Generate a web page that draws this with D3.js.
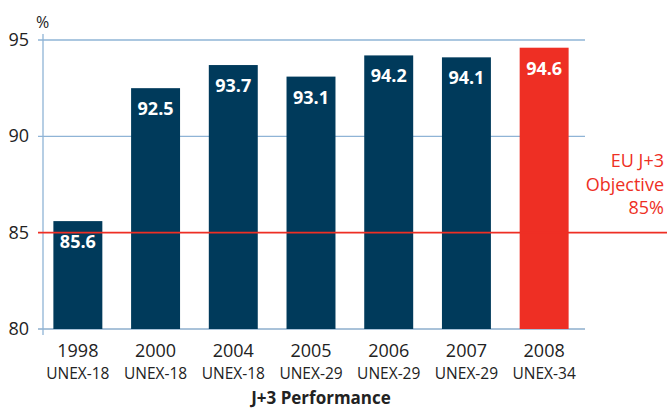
<!DOCTYPE html>
<html>
<head>
<meta charset="utf-8">
<script src="https://cdn.jsdelivr.net/npm/d3@7"></script>
<style>
  body { margin: 0; background: #fff; }
  svg text { font-family: "Open Sans", "Noto Sans", sans-serif; }
</style>
</head>
<body>
<svg width="667" height="410"></svg>
<script>
// data
let years = ["1998", "2000", "2004", "2005", "2006", "2007", "2008"];
let panels = ["UNEX-18", "UNEX-18", "UNEX-18", "UNEX-29", "UNEX-29", "UNEX-29", "UNEX-34"];
let values = [85.6, 92.5, 93.7, 93.1, 94.2, 94.1, 94.6];
let yTicks = [80, 85, 90, 95];
let objective = 85;
let objectiveLabel = ["EU J+3", "Objective", "85%"];

let svg = d3.select("svg"),
    width = +svg.attr("width"),
    height = +svg.attr("height");

let navy = "#003a5b",
    red = "#ee2f24",
    gridBlue = "#8fb4d6";

let x = d3.scaleBand()
    .domain(years)
    .range([39, 583])
    .paddingInner(0.37)
    .paddingOuter(0.185);

let y = d3.scaleLinear()
    .domain([80, 95])
    .range([329, 40]);

let axisX = 43;

// gridlines (not at the objective, that one is red)
svg.append("g")
  .selectAll("line")
  .data(yTicks.filter(function(d) { return d !== objective; }))
  .enter().append("line")
    .attr("x1", 38)
    .attr("x2", 585)
    .attr("y1", function(d) { return y(d); })
    .attr("y2", function(d) { return y(d); })
    .attr("stroke", function(d) { return d === 80 ? "#a9c2d9" : gridBlue; })
    .attr("stroke-width", function(d) { return d === 80 ? 2 : 1.3; });

// vertical axis line
svg.append("line")
    .attr("x1", axisX).attr("x2", axisX)
    .attr("y1", y(95) - 6).attr("y2", y(80) + 6)
    .attr("stroke", gridBlue)
    .attr("stroke-width", 1.3);

// tick labels
svg.append("g")
  .selectAll("text")
  .data(yTicks)
  .enter().append("text")
    .attr("x", 29)
    .attr("y", function(d) { return y(d) + 6; })
    .attr("text-anchor", "end")
    .attr("font-size", 18)
    .attr("fill", "#222")
    .text(function(d) { return d; });

svg.append("text")
    .attr("x", 36)
    .attr("y", 28)
    .attr("font-size", 16)
    .attr("fill", "#222")
    .text("%");

// bars
svg.append("g")
  .selectAll("rect")
  .data(values)
  .enter().append("rect")
    .attr("x", function(d, i) { return x(years[i]); })
    .attr("y", function(d) { return y(d); })
    .attr("width", x.bandwidth())
    .attr("height", function(d) { return y(80) - y(d); })
    .attr("fill", function(d, i) { return i === values.length - 1 ? red : navy; });

// objective line on top of bars
svg.append("line")
    .attr("x1", 38)
    .attr("x2", width)
    .attr("y1", y(objective))
    .attr("y2", y(objective))
    .attr("stroke", red)
    .attr("stroke-width", 1.6);

// value labels
svg.append("g")
  .selectAll("text")
  .data(values)
  .enter().append("text")
    .attr("x", function(d, i) { return x(years[i]) + x.bandwidth() / 2; })
    .attr("y", function(d) { return y(d) + 27; })
    .attr("text-anchor", "middle")
    .attr("font-size", 18)
    .attr("font-weight", "bold")
    .attr("fill", "#fff")
    .text(function(d) { return d.toFixed(1); });

// x labels
let xl = svg.append("g")
  .selectAll("g")
  .data(years)
  .enter().append("g")
    .attr("transform", function(d) { return "translate(" + (x(d) + x.bandwidth() / 2) + ",0)"; });

xl.append("text")
    .attr("y", 357)
    .attr("text-anchor", "middle")
    .attr("font-size", 18)
    .attr("fill", "#222")
    .text(function(d) { return d; });

xl.append("text")
    .attr("y", 379)
    .attr("text-anchor", "middle")
    .attr("font-size", 15.5)
    .attr("fill", "#222")
    .text(function(d, i) { return panels[i]; });

svg.append("text")
    .attr("x", 321)
    .attr("y", 404)
    .attr("text-anchor", "middle")
    .attr("font-size", 17)
    .attr("font-weight", "bold")
    .attr("fill", "#222")
    .text("J+3 Performance");

// objective annotation
svg.append("g")
  .selectAll("text")
  .data(objectiveLabel)
  .enter().append("text")
    .attr("x", 664)
    .attr("y", function(d, i) { return 167 + i * 23.5; })
    .attr("text-anchor", "end")
    .attr("font-size", 18)
    .attr("fill", red)
    .text(function(d) { return d; });
</script>
</body>
</html>
